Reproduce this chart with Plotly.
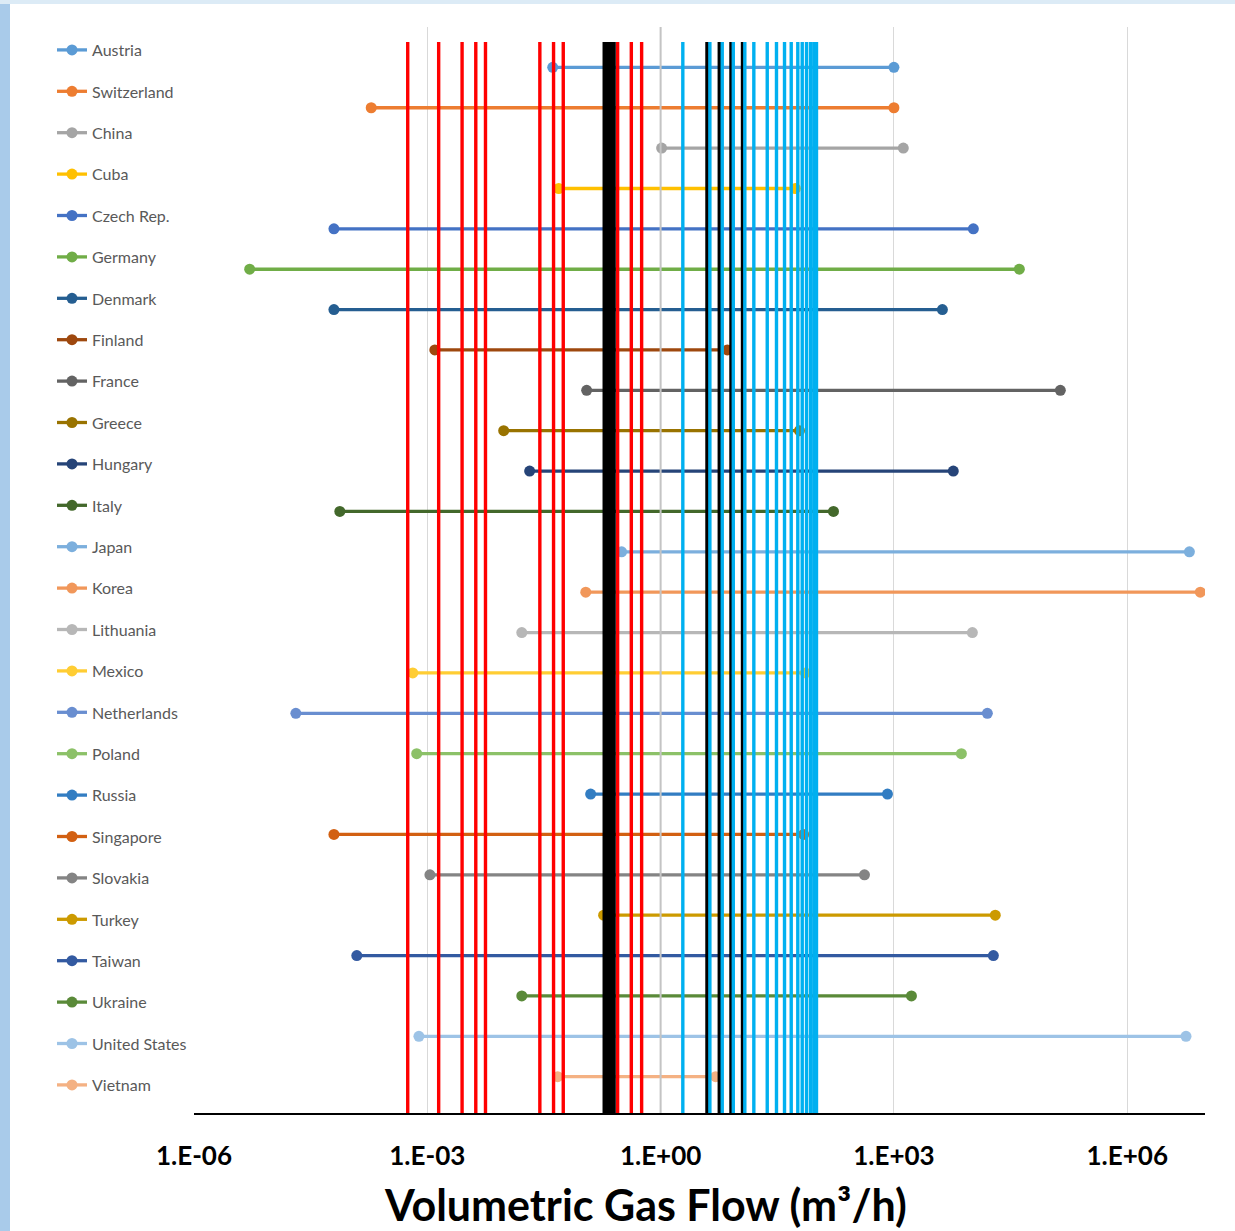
import plotly.graph_objects as go

countries = ["Austria", "Switzerland", "China", "Cuba", "Czech Rep.", "Germany", "Denmark",
             "Finland", "France", "Greece", "Hungary", "Italy", "Japan", "Korea", "Lithuania",
             "Mexico", "Netherlands", "Poland", "Russia", "Singapore", "Slovakia", "Turkey",
             "Taiwan", "Ukraine", "United States", "Vietnam"]
flow_min = [0.041, 1.9e-4, 1.03, 0.049, 6.3e-5, 5.2e-6, 6.3e-5, 1.25e-3, 0.112, 0.0096,
            0.0207, 7.5e-5, 0.315, 0.109, 0.0164, 6.5e-4, 2.04e-5, 7.3e-4, 0.126, 6.3e-5,
            1.08e-3, 0.185, 1.24e-4, 0.0164, 7.8e-4, 0.0475]
flow_max = [1000, 1000, 1320, 54, 10500, 41000, 4200, 7.2, 1.38e5, 61, 5800, 167, 6.3e6,
            8.7e6, 10200, 73, 15900, 7370, 826, 69, 418, 20100, 19000, 1680, 5.7e6, 5.1]
colors = ["#5B9BD5", "#ED7D31", "#A5A5A5", "#FFC000", "#4472C4", "#70AD47", "#255E91",
          "#9E480E", "#636363", "#997300", "#264478", "#43682B", "#7CAFDD", "#F1975A",
          "#B7B7B7", "#FFCD33", "#698ED0", "#8CC168", "#327DC2", "#D26012", "#848484",
          "#CC9A00", "#335AA1", "#5A8A39", "#9DC3E6", "#F4B183"]

red_lines = [5.6e-4, 1.4e-3, 2.8e-3, 4.2e-3, 5.6e-3, 0.028, 0.042, 0.056, 0.28, 0.42, 0.57]
black_lines = [0.19, 0.21, 0.23, 0.25, 3.98, 5.73, 8.1, 11.4]
cyan_lines = [1.93, 4.3, 6.2, 8.6, 12.1, 15.8, 23.5, 30.9, 39.2, 47.8, 58.1, 66.2, 75.2,
              84.6, 93.3, 101]

tick_vals = [1e-6, 1e-3, 1, 1e3, 1e6]
tick_text = ["1.E-06", "1.E-03", "1.E+00", "1.E+03", "1.E+06"]
x_title = "Volumetric Gas Flow (m³/h)"

FONT = "Lato"
Y_BOTTOM, Y_TOP, LINE_TOP = 0.1, 27.0, 26.63
n = len(countries)

fig = go.Figure()
for i, (name, lo, hi, c) in enumerate(zip(countries, flow_min, flow_max, colors)):
    yv = n - i
    fig.add_trace(go.Scatter(
        x=[lo, hi], y=[yv, yv], mode="lines+markers", name=name,
        legendgroup=name,
        line=dict(color=c, width=3.3),
        marker=dict(color=c, size=11),
    ))

# vertical axis line crossing at x = 1
fig.add_trace(go.Scatter(x=[1, 1], y=[Y_BOTTOM, Y_TOP], mode="lines",
                         line=dict(color="#C4C4C4", width=2), showlegend=False,
                         hoverinfo="skip"))

def vlines(vals):
    xs, ys = [], []
    for v in vals:
        xs += [v, v, None]
        ys += [Y_BOTTOM, LINE_TOP, None]
    return xs, ys

for vals, col, w in [(red_lines, "#FF0000", 3.4), (black_lines, "#000000", 4),
                     (cyan_lines, "#00B0F0", 3.4)]:
    xs, ys = vlines(vals)
    fig.add_trace(go.Scatter(x=xs, y=ys, mode="lines", line=dict(color=col, width=w),
                             showlegend=False, hoverinfo="skip"))

W, H = 1235, 1231
L, R, T, B = 194, 1205, 27, 1113

def px_x(p):
    return (p - L) / (R - L)

def px_y(p):
    return (B - p) / (B - T)

fig.add_annotation(x=px_x(645), y=px_y(1204), xref="paper", yref="paper",
                   xanchor="center", yanchor="middle",
                   text=x_title, showarrow=False,
                   font=dict(family=FONT, size=43, color="#000000", weight="bold"))

# window edge decoration
fig.add_shape(type="rect", xref="paper", yref="paper", x0=px_x(0), x1=px_x(10),
              y0=px_y(H), y1=px_y(0), fillcolor="#A9CBEA", line=dict(width=0),
              layer="below")
fig.add_shape(type="rect", xref="paper", yref="paper", x0=px_x(0), x1=px_x(W),
              y0=px_y(4), y1=px_y(0), fillcolor="#DCEBF6", line=dict(width=0),
              layer="below")

fig.update_layout(
    width=W, height=H, autosize=False,
    margin=dict(l=L, r=W - R, t=T, b=H - B, pad=0, autoexpand=False),
    paper_bgcolor="white", plot_bgcolor="white",
    font=dict(family=FONT, color="#595959"),
    showlegend=True,
    legend=dict(xref="container", yref="container", x=52 / W, y=1 - 33 / H,
                xanchor="left", yanchor="top", traceorder="grouped",
                tracegroupgap=17.6, font=dict(family=FONT, size=16, color="#595959"),
                bgcolor="rgba(0,0,0,0)", itemwidth=30, maxheight=1200),
    xaxis=dict(type="log", range=[-6, 7], tickvals=tick_vals, ticktext=tick_text,
               showgrid=True, gridcolor="#D9D9D9", gridwidth=1.3,
               showline=True, linecolor="#000000", linewidth=1.6,
               ticks="", zeroline=False, ticklabelstandoff=19,
               tickfont=dict(family=FONT, size=26, color="#000000", weight="bold")),
    yaxis=dict(range=[Y_BOTTOM, Y_TOP], showgrid=False, showticklabels=False,
               zeroline=False, showline=False, ticks=""),
)

fig.write_html("out.html", config={"displayModeBar": False},
               post_script="document.body.style.margin='0px';")
